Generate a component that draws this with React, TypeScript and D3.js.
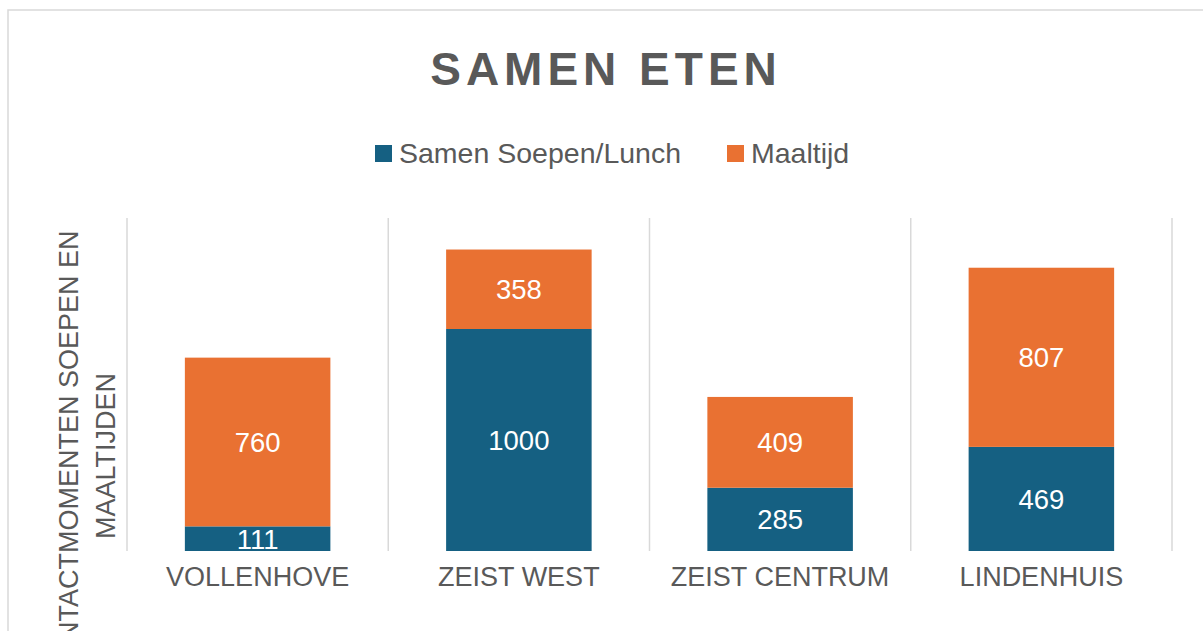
import React from "react";
import * as d3 from "d3";

const categories = ["VOLLENHOVE", "ZEIST WEST", "ZEIST CENTRUM", "LINDENHUIS"];
const seriesNames = ["Samen Soepen/Lunch", "Maaltijd"];
const lunchValues = [111, 1000, 285, 469];
const maaltijdValues = [760, 358, 409, 807];
const seriesColors = ["#156082", "#E97132"];
const yTitleLines = ["CONTACTMOMENTEN SOEPEN EN", "MAALTIJDEN"];

export default function App() {
  const W = 1203, H = 631;
  const x = d3.scaleBand<string>().domain(categories).range([127, 1172]).paddingInner(0.443).paddingOuter(0.2215);
  const y = d3.scaleLinear().domain([0, 1500]).range([551, 218]);
  const rows = categories.map((c, i) => ({ cat: c, lunch: lunchValues[i], maaltijd: maaltijdValues[i] }));
  const stack = d3.stack<any>().keys(["lunch", "maaltijd"])(rows);
  const step = (1172 - 127) / categories.length;
  const gridXs = d3.range(categories.length + 1).map((i) => 127 + i * step);
  const font = "Liberation Sans, Arial, sans-serif";
  const gray = "#595959";
  return (
    <svg width={W} height={H} style={{ position: "absolute", left: 0, top: 0, background: "#fff" }} fontFamily={font}>
      <rect x={8} y={10} width={1400} height={800} fill="#fff" stroke="#d9d9d9" strokeWidth={1.5} />
      <text x={606} y={85} textAnchor="middle" fontSize={46} fontWeight="bold" fill={gray} letterSpacing={5}>SAMEN ETEN</text>
      {seriesNames.map((s, i) => {
        const lx = i === 0 ? 375 : 727;
        return (
          <g key={s}>
            <rect x={lx} y={145} width={17} height={17} fill={seriesColors[i]} />
            <text x={lx + 24} y={163} fontSize={28.5} fill={gray}>{s}</text>
          </g>
        );
      })}
      {gridXs.map((gx, i) => (
        <line key={i} x1={gx} x2={gx} y1={218} y2={551} stroke="#d9d9d9" strokeWidth={1.5} />
      ))}
      {stack.map((layer, si) => (
        <g key={si}>
          {layer.map((d: any, i: number) => {
            const x0 = x(categories[i])!;
            const y0 = y(d[1]);
            const h = y(d[0]) - y(d[1]);
            const v = d[1] - d[0];
            return (
              <g key={i}>
                <rect x={x0} y={y0} width={x.bandwidth()} height={h} fill={seriesColors[si]} />
                <text x={x0 + x.bandwidth() / 2} y={y0 + h / 2} dy="0.36em" textAnchor="middle" fontSize={27.5} fill="#fff">{v}</text>
              </g>
            );
          })}
        </g>
      ))}
      {categories.map((c) => (
        <text key={c} x={x(c)! + x.bandwidth() / 2} y={586} textAnchor="middle" fontSize={27} fill={gray}>{c}</text>
      ))}
      <g transform="translate(0,456) rotate(-90)">
        {yTitleLines.map((t, i) => (
          <text key={i} x={0} y={78 + i * 37} textAnchor="middle" fontSize={27} fill={gray}>{t}</text>
        ))}
      </g>
    </svg>
  );
}
